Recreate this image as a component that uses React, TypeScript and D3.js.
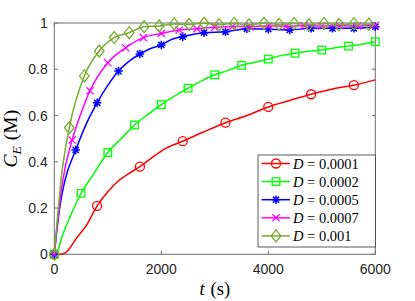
import React, { useRef, useEffect } from 'react';
import * as d3 from 'd3';

// time (s) and C_E (M) samples
const tRed = [0, 100, 200, 300, 400, 600, 800, 1000, 1200, 1400, 1600, 1850, 2100, 2400, 2800, 3200, 3600, 4000, 4400, 4800, 5200, 5600, 6000];
const cRed = [0, 0.0, 0.005, 0.03, 0.065, 0.125, 0.209, 0.27, 0.318, 0.35, 0.379, 0.422, 0.46, 0.489, 0.53, 0.569, 0.6, 0.637, 0.665, 0.692, 0.715, 0.731, 0.754];

const tGreen = [0, 50, 150, 300, 500, 700, 1000, 1250, 1500, 1750, 2000, 2250, 2500, 2750, 3000, 3250, 3500, 3750, 4000, 4250, 4500, 4750, 5000, 5250, 5500, 5750, 6000];
const cGreen = [0, 0.01, 0.08, 0.165, 0.264, 0.335, 0.44, 0.5, 0.559, 0.605, 0.647, 0.685, 0.718, 0.75, 0.776, 0.795, 0.817, 0.83, 0.844, 0.86, 0.869, 0.878, 0.883, 0.893, 0.9, 0.908, 0.919];

const tBlue = [0, 100, 200, 400, 600, 800, 1000, 1200, 1400, 1600, 1800, 2000, 2200, 2400, 2800, 3200, 3600, 4000, 4400, 4800, 5200, 5600, 6000];
const cBlue = [0, 0.2, 0.32, 0.451, 0.565, 0.655, 0.73, 0.792, 0.835, 0.866, 0.89, 0.905, 0.93, 0.941, 0.958, 0.962, 0.975, 0.973, 0.97, 0.977, 0.977, 0.977, 0.984];

const tMagenta = [0, 80, 167, 333.33, 500, 666.67, 1000, 1333.33, 1666.67, 2000, 2333.33, 2666.67, 3000, 3333.33, 3666.67, 4000, 4333.33, 4666.67, 5000, 5333.33, 5666.67, 6000];
const cMagenta = [0, 0.18, 0.33, 0.494, 0.61, 0.707, 0.828, 0.893, 0.937, 0.955, 0.97, 0.975, 0.982, 0.985, 0.984, 0.987, 0.986, 0.988, 0.987, 0.988, 0.987, 0.99];

const tOlive = [0, 140, 280, 560, 840, 1120, 1400, 1680, 1960, 2240, 2520, 2800, 3080, 3360, 3640, 3920, 4200, 4480, 4760, 5040, 5320, 5600, 5880, 6000];
const cOlive = [0, 0.35, 0.547, 0.771, 0.879, 0.937, 0.958, 0.984, 0.987, 0.996, 0.994, 0.999, 0.993, 0.998, 0.992, 0.999, 0.994, 0.998, 0.993, 0.998, 0.993, 0.997, 0.995, 0.996];

const seriesNames = ['0.0001', '0.0002', '0.0005', '0.0007', '0.001'];
const seriesColors = ['#ff0000', '#00ff00', '#0000ff', '#ff00ff', '#77ac30'];
const markerShapes = ['circle', 'square', 'asterisk', 'cross', 'diamond'];
const markerEvery = [800, 500, 400, 333.33, 280];

const xTicks = [0, 2000, 4000, 6000];
const yTicks = [0, 0.2, 0.4, 0.6, 0.8, 1];

const W = 415;
const H = 301;

const drawMarker = (g: any, shape: string, x: number, y: number, color: string) => {
  if (shape === 'circle') {
    g.append('circle').attr('cx', x).attr('cy', y).attr('r', 4.5)
      .attr('fill', 'none').attr('stroke', color).attr('stroke-width', 1.3);
  } else if (shape === 'square') {
    g.append('rect').attr('x', x - 3.8).attr('y', y - 3.8).attr('width', 7.6).attr('height', 7.6)
      .attr('fill', 'none').attr('stroke', color).attr('stroke-width', 1.3);
  } else if (shape === 'diamond') {
    g.append('path').attr('d', `M${x},${y - 6}L${x + 4.8},${y}L${x},${y + 6}L${x - 4.8},${y}Z`)
      .attr('fill', 'none').attr('stroke', color).attr('stroke-width', 1.3);
  } else if (shape === 'cross') {
    const s = 3.6;
    g.append('path').attr('d', `M${x - s},${y - s}L${x + s},${y + s}M${x - s},${y + s}L${x + s},${y - s}`)
      .attr('stroke', color).attr('stroke-width', 1.3);
  } else if (shape === 'asterisk') {
    const s = 4.3;
    const d = s * 0.72;
    g.append('path')
      .attr('d', `M${x - s},${y}L${x + s},${y}M${x},${y - s}L${x},${y + s}M${x - d},${y - d}L${x + d},${y + d}M${x - d},${y + d}L${x + d},${y - d}`)
      .attr('stroke', color).attr('stroke-width', 1.5);
  }
};

const App: React.FC = () => {
  const svgRef = useRef<SVGSVGElement | null>(null);

  useEffect(() => {
    if (!svgRef.current) return;
    const svg = d3.select(svgRef.current);
    svg.selectAll('*').remove();

    const left = 54.3, right = 375.3, top = 23, bottom = 254.3;
    const x = d3.scaleLinear().domain([0, 6000]).range([left, right]);
    const y = d3.scaleLinear().domain([0, 1]).range([bottom, top]);

    const axisColor = '#6e6e6e';
    const labelColor = '#262626';
    const sans = 'Liberation Sans, Arial, sans-serif';
    const serif = 'Liberation Serif, Times New Roman, serif';

    const series = [
      { t: tRed, c: cRed },
      { t: tGreen, c: cGreen },
      { t: tBlue, c: cBlue },
      { t: tMagenta, c: cMagenta },
      { t: tOlive, c: cOlive },
    ];

    // box
    svg.append('rect').attr('x', left).attr('y', top).attr('width', right - left).attr('height', bottom - top)
      .attr('fill', 'white').attr('stroke', axisColor).attr('stroke-width', 1);

    const tickLen = 3.5;
    xTicks.forEach(v => {
      svg.append('line').attr('x1', x(v)).attr('x2', x(v)).attr('y1', bottom).attr('y2', bottom - tickLen)
        .attr('stroke', axisColor);
      svg.append('line').attr('x1', x(v)).attr('x2', x(v)).attr('y1', top).attr('y2', top + tickLen)
        .attr('stroke', axisColor);
      svg.append('text').attr('x', x(v)).attr('y', bottom + 19.3)
        .attr('text-anchor', 'middle').style('font-family', sans).style('font-size', '14px')
        .attr('fill', labelColor).text(String(v));
    });
    yTicks.forEach(v => {
      svg.append('line').attr('x1', left).attr('x2', left + tickLen).attr('y1', y(v)).attr('y2', y(v))
        .attr('stroke', axisColor);
      svg.append('line').attr('x1', right).attr('x2', right - tickLen).attr('y1', y(v)).attr('y2', y(v))
        .attr('stroke', axisColor);
      svg.append('text').attr('x', left - 6.5).attr('y', y(v)).attr('dy', '0.36em')
        .attr('text-anchor', 'end').style('font-family', sans).style('font-size', '14px')
        .attr('fill', labelColor).text(String(v));
    });

    const line = d3.line<[number, number]>()
      .x(d => x(d[0]))
      .y(d => y(d[1]))
      .curve(d3.curveMonotoneX);

    series.forEach((s, i) => {
      const pts: [number, number][] = s.t.map((tv, k) => [tv, s.c[k]]);
      svg.append('path').attr('d', line(pts) || '').attr('fill', 'none')
        .attr('stroke', seriesColors[i]).attr('stroke-width', 1.5);
      const mg = svg.append('g');
      pts.forEach(p => {
        const r = p[0] / markerEvery[i];
        if (Math.abs(r - Math.round(r)) < 0.01) {
          drawMarker(mg, markerShapes[i], x(p[0]), y(p[1]), seriesColors[i]);
        }
      });
    });

    // axis labels
    const xl = svg.append('text').attr('x', (left + right) / 2).attr('y', 295)
      .attr('text-anchor', 'middle').style('font-family', serif).style('font-size', '18.5px').attr('fill', '#000');
    xl.append('tspan').style('font-style', 'italic').text('t');
    xl.append('tspan').attr('dx', 6).text('(s)');

    const yl = svg.append('text').attr('transform', `translate(17, ${(top + bottom) / 2}) rotate(-90)`)
      .attr('text-anchor', 'middle').style('font-family', serif).style('font-size', '19.5px').attr('fill', '#000');
    yl.append('tspan').style('font-style', 'italic').text('C');
    yl.append('tspan').style('font-style', 'italic').style('font-size', '13.5px').attr('dy', 3.5).text('E');
    yl.append('tspan').attr('dy', -3.5).attr('dx', 6).text('(M)');

    // legend
    const lx = 258, ly = 155, lw = 117.5, lh = 92;
    const lg = svg.append('g');
    lg.append('rect').attr('x', lx).attr('y', ly).attr('width', lw).attr('height', lh)
      .attr('fill', 'white').attr('stroke', '#333').attr('stroke-width', 0.8);
    const rowH = 18.1;
    seriesNames.forEach((name, i) => {
      const cy = ly + 8.5 + rowH * i;
      lg.append('line').attr('x1', lx + 3.5).attr('x2', lx + 32).attr('y1', cy).attr('y2', cy)
        .attr('stroke', seriesColors[i]).attr('stroke-width', 1.5);
      drawMarker(lg, markerShapes[i], lx + 18, cy, seriesColors[i]);
      const tx = lg.append('text').attr('x', lx + 35).attr('y', cy).attr('dy', '0.35em')
        .style('font-family', serif).style('font-size', '14.5px').attr('fill', '#000');
      tx.append('tspan').style('font-style', 'italic').text('D');
      tx.append('tspan').text(` = ${name}`);
    });
  }, []);

  return (
    <svg ref={svgRef} width={W} height={H}
      style={{ position: 'absolute', left: 0, top: 0, background: 'white' }} />
  );
};

export default App;
